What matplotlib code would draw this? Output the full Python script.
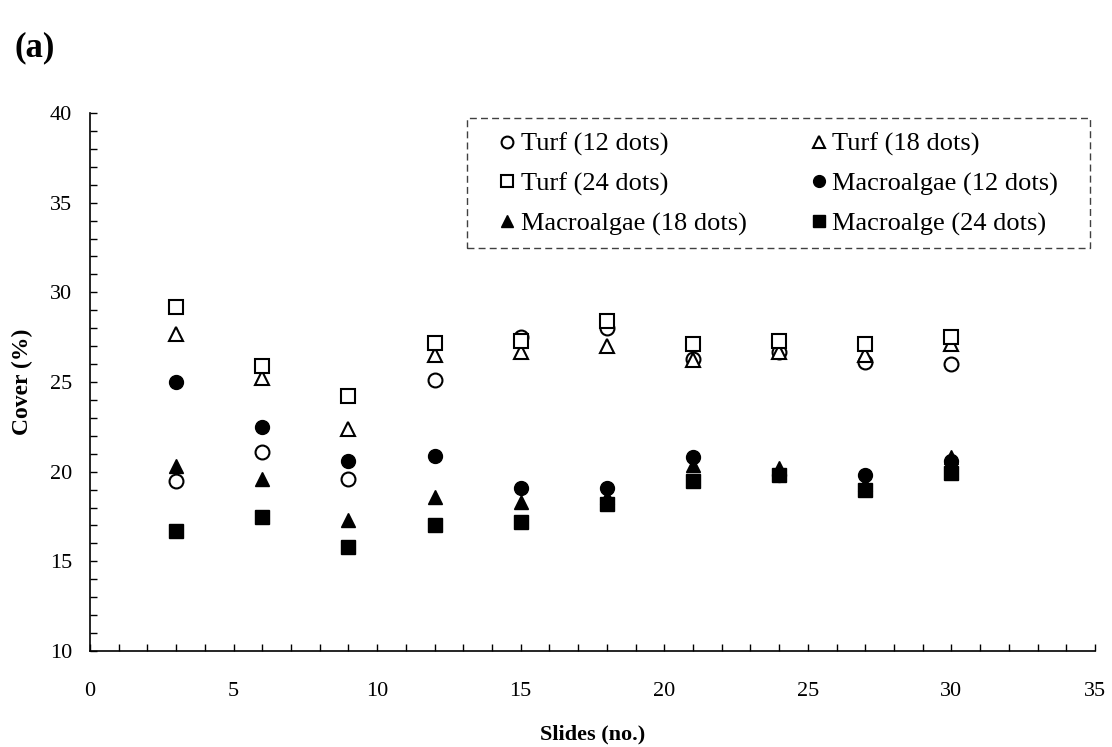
import matplotlib
matplotlib.use("Agg")
import matplotlib.pyplot as plt
from matplotlib.ticker import MultipleLocator
from matplotlib.patches import Rectangle

slides = [3, 6, 9, 12, 15, 18, 21, 24, 27, 30]
turf_12 = [19.5, 21.1, 19.6, 25.1, 27.5, 28.0, 26.3, 26.7, 26.1, 26.0]
turf_18 = [27.7, 25.2, 22.4, 26.5, 26.7, 27.0, 26.2, 26.7, 26.5, 27.1]
turf_24 = [29.2, 25.9, 24.2, 27.2, 27.3, 28.4, 27.1, 27.3, 27.1, 27.5]
macro_12 = [25.0, 22.5, 20.6, 20.9, 19.1, 19.1, 20.8, 19.8, 19.8, 20.6]
macro_18 = [20.3, 19.6, 17.3, 18.6, 18.3, 18.6, 20.4, 20.2, 19.3, 20.8]
macro_24 = [16.7, 17.5, 15.8, 17.0, 17.2, 18.2, 19.5, 19.8, 19.0, 19.9]

plt.rcParams['font.family'] = ['Liberation Serif', 'DejaVu Serif']

fig = plt.figure(figsize=(11.12, 7.47), dpi=100)
ax = fig.add_axes([0.0809, 0.1285, 0.9038, 0.7202])

ms = 10
mew = 1.5
h_t12, = ax.plot(slides, turf_12, 'o', ms=ms, mfc='white', mec='black', mew=mew, ls='none', label='Turf (12 dots)')
h_t18, = ax.plot(slides, turf_18, '^', ms=ms, mfc='white', mec='black', mew=mew, ls='none', label='Turf (18 dots)')
h_t24, = ax.plot(slides, turf_24, 's', ms=ms, mfc='white', mec='black', mew=mew, ls='none', label='Turf (24 dots)')
h_m12, = ax.plot(slides, macro_12, 'o', ms=ms, mfc='black', mec='black', ls='none', label='Macroalgae (12 dots)')
h_m18, = ax.plot(slides, macro_18, '^', ms=ms, mfc='black', mec='black', ls='none', label='Macroalgae (18 dots)')
h_m24, = ax.plot(slides, macro_24, 's', ms=ms, mfc='black', mec='black', ls='none', label='Macroalge (24 dots)')

ax.set_xlim(0, 35)
ax.set_ylim(10, 40)
ax.xaxis.set_major_locator(MultipleLocator(5))
ax.xaxis.set_minor_locator(MultipleLocator(1))
ax.yaxis.set_major_locator(MultipleLocator(5))
ax.yaxis.set_minor_locator(MultipleLocator(1))
ax.tick_params(which='both', direction='in', length=5, width=1, labelsize=16)
ax.tick_params(axis='x', which='both', pad=22)
ax.tick_params(axis='y', which='both', pad=13)
for s in ['top', 'right']:
    ax.spines[s].set_visible(False)
for s in ['left', 'bottom']:
    ax.spines[s].set_linewidth(1.2)

ax.set_xlabel('Slides (no.)', fontsize=16, fontweight='bold', labelpad=17)
ax.set_ylabel('Cover (%)', fontsize=17, fontweight='bold', labelpad=12)

# legend ordered row-major as in the reference
handles = [h_t12, h_t24, h_m18, h_t18, h_m12, h_m24]
leg = ax.legend(handles=handles, labels=[h.get_label() for h in handles],
                ncol=2, loc='upper left', bbox_to_anchor=(0.405, 0.964),
                fontsize=19, frameon=False, handletextpad=0.15,
                columnspacing=2.35, handlelength=0.75, borderpad=0, labelspacing=0.6,
                markerscale=0.85, borderaxespad=0)

# dashed legend box
box = Rectangle((0.375, 0.749), 0.62, 0.2417, transform=ax.transAxes,
                fill=False, edgecolor='#404040', linestyle=(0, (5, 3)),
                linewidth=1.0, clip_on=False)
ax.add_patch(box)

fig.text(0.013, 0.925, '(a)', fontsize=25, fontweight='bold')

fig.savefig('out.png', dpi=100)
